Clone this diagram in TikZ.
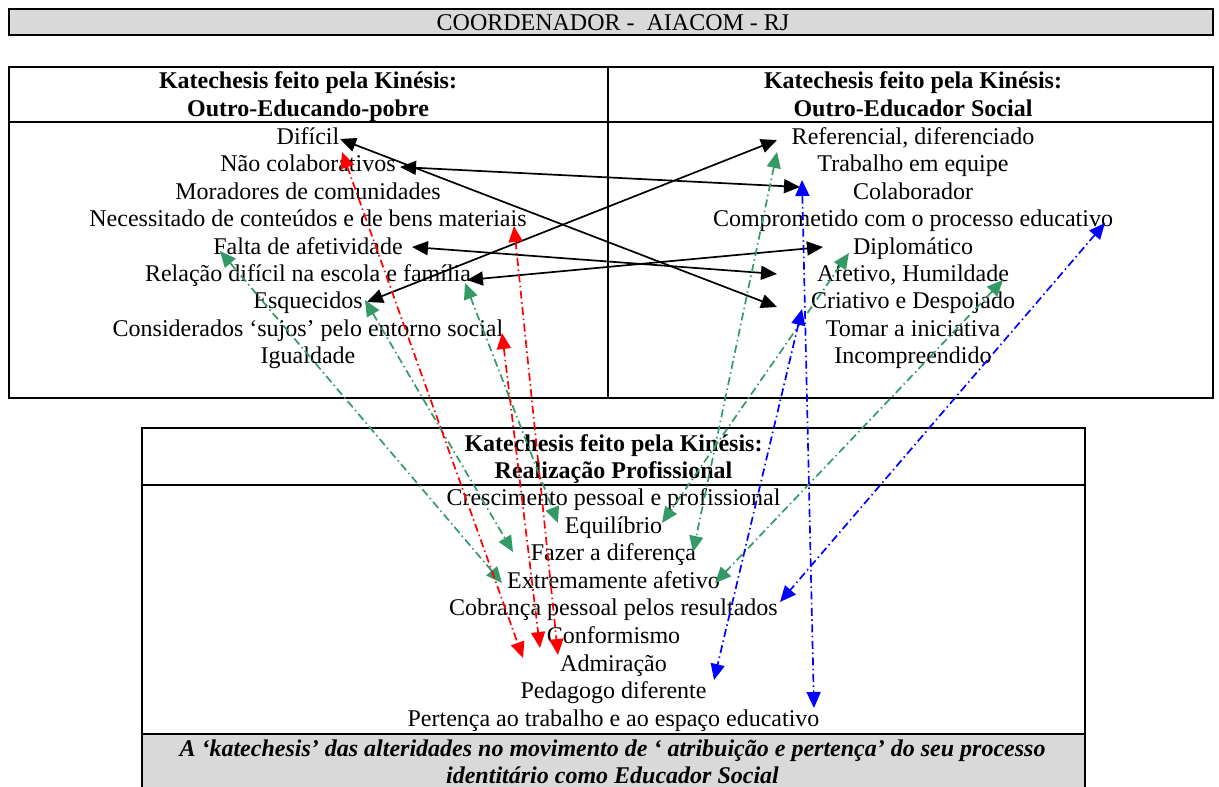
\documentclass[tikz,border=0pt]{standalone}
\usepackage{fontspec}
\setmainfont{Liberation Serif}
\usetikzlibrary{arrows.meta}
\definecolor{cellgray}{RGB}{217,217,217}
\definecolor{seagreen}{RGB}{51,153,102}

\begin{document}
\begin{tikzpicture}[x=1pt,y=-1pt,
  txt/.style={anchor=base,inner sep=0pt,font=\fontsize{24}{27.6}\selectfont},
  hdr/.style={anchor=base,inner sep=0pt,font=\fontsize{24}{27.6}\selectfont\bfseries},
  foot/.style={anchor=base,inner sep=0pt,font=\fontsize{24}{27.6}\selectfont\bfseries\itshape},
  frame/.style={line width=2pt},
  link/.style={line width=1.7pt,{Triangle[length=16pt,width=14pt]}-{Triangle[length=16pt,width=14pt]}},
  dd/.style={link,dash pattern=on 8pt off 3.5pt on 1.5pt off 3.5pt},
]
\useasboundingbox (0,0) rectangle (1219,787);

% ---------- frames ----------
\draw[frame,fill=cellgray] (9,9) rectangle (1213,35);
\draw[frame] (9,67) rectangle (1213,398);
\draw[frame] (608,67) -- (608,398);
\draw[frame] (9,122) -- (1213,122);
\fill[cellgray] (142,734) rectangle (1085,795);
\draw[frame] (142,795) -- (142,428) -- (1085,428) -- (1085,795);
\draw[frame] (142,485) -- (1085,485);
\draw[frame] (142,734) -- (1085,734);

% ---------- title ----------
\node[txt] (title) at (613,30.5) {COORDENADOR -\ \ AIACOM - RJ};

% ---------- left column ----------
\node[hdr] (lh1) at (308,88.5) {Katechesis feito pela Kinésis:};
\node[hdr] (lh2) at (308,116) {Outro-Educando-pobre};
\node[txt] (l1) at (308,144.5) {Difícil};
\node[txt] (l2) at (308,171.9) {Não colaborativos};
\node[txt] (l3) at (308,199.3) {Moradores de comunidades};
\node[txt] (l4) at (308,226.7) {Necessitado de conteúdos e de bens materiais};
\node[txt] (l5) at (308,254.1) {Falta de afetividade};
\node[txt] (l6) at (308,281.5) {Relação difícil na escola e família};
\node[txt] (l7) at (308,308.9) {Esquecidos};
\node[txt] (l8) at (308,336.3) {Considerados ‘sujos’ pelo entorno social};
\node[txt] (l9) at (308,363.7) {Igualdade};

% ---------- right column ----------
\node[hdr] (rh1) at (913,88.5) {Katechesis feito pela Kinésis:};
\node[hdr] (rh2) at (913,116) {Outro-Educador Social};
\node[txt] (r1) at (913,144.5) {Referencial, diferenciado};
\node[txt] (r2) at (913,171.9) {Trabalho em equipe};
\node[txt] (r3) at (913,199.3) {Colaborador};
\node[txt] (r4) at (913,226.7) {Comprometido com o processo educativo};
\node[txt] (r5) at (913,254.1) {Diplomático};
\node[txt] (r6) at (913,281.5) {Afetivo, Humildade};
\node[txt] (r7) at (913,308.9) {Criativo e Despojado};
\node[txt] (r8) at (913,336.3) {Tomar a iniciativa};
\node[txt] (r9) at (913,363.7) {Incompreendido};

% ---------- bottom table ----------
\node[hdr] (bh1) at (613.5,451.5) {Katechesis feito pela Kinésis:};
\node[hdr] (bh2) at (613.5,478.5) {Realização Profissional};
\node[txt] (b1) at (613.5,505.5) {Crescimento pessoal e profissional};
\node[txt] (b2) at (613.5,533.1) {Equilíbrio};
\node[txt] (b3) at (613.5,560.7) {Fazer a diferença};
\node[txt] (b4) at (613.5,588.3) {Extremamente afetivo};
\node[txt] (b5) at (613.5,615.9) {Cobrança pessoal pelos resultados};
\node[txt] (b6) at (613.5,643.5) {Conformismo};
\node[txt] (b7) at (613.5,671.1) {Admiração};
\node[txt] (b8) at (613.5,698.7) {Pedagogo diferente};
\node[txt] (b9) at (613.5,726.3) {Pertença ao trabalho e ao espaço educativo};
\node[foot] (f1) at (612.5,756.5) {A ‘katechesis’ das alteridades no movimento de ‘ atribuição e pertença’ do seu processo};
\node[foot] (f2) at (612.5,783.5) {identitário como Educador Social};

% ---------- connector ends ----------
% black
\coordinate (kDif) at (340,139);   \coordinate (kCri) at (777,307);
\coordinate (kNao) at (400,167);   \coordinate (kCol) at (800,187);
\coordinate (kEsq) at (367,302);   \coordinate (kRef) at (777,140);
\coordinate (kFal) at (412,247);   \coordinate (kAfe) at (777,274);
\coordinate (kRel) at (467,280);   \coordinate (kDip) at (823,247);
% green
\coordinate (gFal) at (220,251);   \coordinate (gExtL) at (502,583);
\coordinate (gEsq) at (365,300);   \coordinate (gFazL) at (513,552);
\coordinate (gRel) at (465,283);   \coordinate (gEquL) at (558,523);
\coordinate (gRef) at (777,152);   \coordinate (gFazR) at (693,552);
\coordinate (gDip) at (849,253);   \coordinate (gEquR) at (662,523);
\coordinate (gCri) at (1003,280);  \coordinate (gExtR) at (715,583);
% red
\coordinate (rDif) at (342,152);   \coordinate (rAdm) at (523,658);
\coordinate (rNec) at (514,226);   \coordinate (rCon2) at (558,655);
\coordinate (rSuj) at (502,333);   \coordinate (rCon) at (540,648);
% blue
\coordinate (uCol) at (802,180);   \coordinate (uPer) at (814,708);
\coordinate (uCri) at (802,309);   \coordinate (uAdm) at (714,680);
\coordinate (uCom) at (1105,223);  \coordinate (uCob) at (780,602);

% ---------- connectors ----------
\draw[link] (kDif) -- (kCri);
\draw[link] (kNao) -- (kCol);
\draw[link] (kEsq) -- (kRef);
\draw[link] (kFal) -- (kAfe);
\draw[link] (kRel) -- (kDip);

\draw[dd,seagreen] (gFal) -- (gExtL);
\draw[dd,seagreen] (gEsq) -- (gFazL);
\draw[dd,seagreen] (gRel) -- (gEquL);
\draw[dd,seagreen] (gRef) -- (gFazR);
\draw[dd,seagreen] (gDip) -- (gEquR);
\draw[dd,seagreen] (gCri) -- (gExtR);

\draw[dd,red] (rDif) -- (rAdm);
\draw[dd,red] (rNec) -- (rCon2);
\draw[dd,red] (rSuj) -- (rCon);

\draw[dd,blue] (uCol) -- (uPer);
\draw[dd,blue] (uCri) -- (uAdm);
\draw[dd,blue] (uCom) -- (uCob);
\end{tikzpicture}
\end{document}
